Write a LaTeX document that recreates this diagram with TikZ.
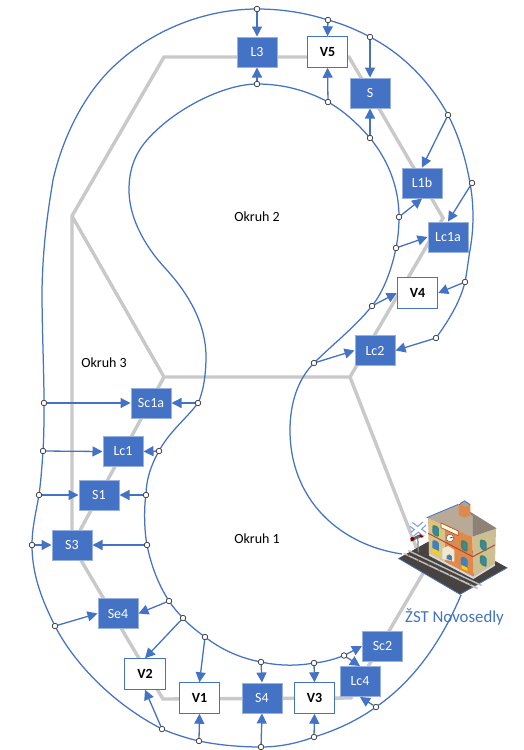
\documentclass[tikz,border=0pt]{standalone}
\usepackage{fontspec}
\setmainfont{Carlito}
\usetikzlibrary{arrows.meta}
\definecolor{bl}{HTML}{4472C4}
\definecolor{trk}{HTML}{C9C9C9}
\definecolor{wallO}{HTML}{DF8A4C}
\definecolor{wallY}{HTML}{D8C488}
\definecolor{wallR}{HTML}{CDBF94}
\definecolor{roofL}{HTML}{B8AA97}
\definecolor{roofR}{HTML}{8E8277}
\definecolor{plat}{HTML}{474341}
\definecolor{winG}{HTML}{3B8C58}
\definecolor{winB}{HTML}{3F80BE}
\definecolor{belt}{HTML}{B9472F}
\tikzset{
  x=1pt,y=-1pt,
  full/.style={draw=bl!55!white,line width=1pt,fill=bl,text=white,minimum width=40pt,minimum height=30pt,inner sep=0pt,font=\fontsize{14}{14}\selectfont},
  hollow/.style={draw=bl,line width=1pt,fill=white,text=black,minimum width=40.5pt,minimum height=30.5pt,inner sep=0pt,font=\fontsize{14}{14}\selectfont\bfseries},
  mk/.style={circle,draw=black!80,fill=white,line width=.6pt,minimum size=5.4pt,inner sep=0pt},
  track/.style={draw=trk,line width=3.4pt,line join=miter},
  loopline/.style={draw=bl,line width=1.25pt},
  feed/.style={draw=bl,line width=1.3pt,-{Triangle[length=10pt,width=10pt]}},
  lab/.style={font=\fontsize{14}{14}\selectfont,text=black,inner sep=0pt}
}
\begin{document}
\begin{tikzpicture}
\useasboundingbox (0,0) rectangle (524,750);
\fill[white] (0,0) rectangle (524,750);
% junctions
\coordinate (j1) at (164,57);
\coordinate (j2) at (72,216);
\coordinate (j3) at (164,377);
\coordinate (j4) at (350,377);
\coordinate (j5) at (443,218);
\coordinate (j6) at (349,57);
\coordinate (j7) at (163,699);
\coordinate (j8) at (351,698);
\coordinate (j9) at (425,570);
\coordinate (j10) at (369,665);
\coordinate (j0) at (257,57);
% gray tracks
\draw[track] (j0) -- (j1) -- (j2) -- (72,545);
\draw[track] (j2) -- (j3) -- (j4) -- (j5) -- (j6) -- (j0);
\draw[track] (j4) -- (j9) -- (j10);
\draw[track] (j3) -- (72,545) -- (j7) -- (j8) -- (j10);
% boxes
\node[full] (L3) at (257,52) {L3};
\node[hollow] (V5) at (327.5,52) {V5};
\node[full] (S) at (370,93) {S};
\node[full] (L1b) at (422,183) {L1b};
\node[full] (Lc1a) at (448,237) {Lc1a};
\node[hollow] (V4) at (417.5,293) {V4};
\node[full] (Lc2) at (375,350.5) {Lc2};
\node[full] (Sc1a) at (151,403) {Sc1a};
\node[full] (Lc1) at (123,451.5) {Lc1};
\node[full] (S1) at (99,495) {S1};
\node[full] (S3) at (72,545) {S3};
\node[full] (Se4) at (118,613.5) {Se4};
\node[hollow] (V2) at (145,674) {V2};
\node[hollow] (V1) at (199.5,698) {V1};
\node[full] (S4) at (262,698) {S4};
\node[hollow] (V3) at (314.5,698) {V3};
\node[full] (Lc4) at (360,681.5) {Lc4};
\node[full] (Sc2) at (382.5,646) {Sc2};
% markers: inner
\node[mk] (a1) at (257,84) {};
\node[mk] (a2) at (328,102) {};
\node[mk] (a3) at (370,138) {};
\node[mk] (a4) at (399,217) {};
\node[mk] (a5) at (396,248) {};
\node[mk] (a6) at (372,306) {};
\node[mk] (a7) at (314,363) {};
\node[mk] (a8) at (198,403) {};
\node[mk] (a9) at (159,451) {};
\node[mk] (a10) at (146,495) {};
\node[mk] (a11) at (147,545) {};
\node[mk] (a12) at (169,601) {};
\node[mk] (a13) at (183,618) {};
\node[mk] (a14) at (205,637) {};
\node[mk] (a15) at (261,662) {};
\node[mk] (a16) at (314,663) {};
\node[mk] (a17) at (344,655.5) {};
% markers: outer
\node[mk] (b1) at (257,9) {};
\node[mk] (b2) at (328,20) {};
\node[mk] (b3) at (370,37) {};
\node[mk] (b4) at (448,115) {};
\node[mk] (b5) at (472,183) {};
\node[mk] (b6) at (465,282) {};
\node[mk] (b7) at (436,338) {};
\node[mk] (b8) at (44,403) {};
\node[mk] (b9) at (43,451) {};
\node[mk] (b10) at (39,495) {};
\node[mk] (b11) at (32,545) {};
\node[mk] (b12) at (55,626) {};
\node[mk] (b13) at (162,729) {};
\node[mk] (b14) at (199,741) {};
\node[mk] (b15) at (261,747) {};
\node[mk] (b16) at (314,737) {};
\node[mk] (b17) at (376,707) {};
\coordinate (st1) at (402,554);
\coordinate (st2) at (461,595);
% inner loop
\draw[loopline] (st1) .. controls (340,545) and (290,500) .. (290,430)
  .. controls (290,403) and (298,379) .. (314,363)
  .. controls (332,345) and (354,328) .. (372,306)
  .. controls (384,291) and (392,268) .. (396,248)
  .. controls (398,238) and (399,228) .. (399,217)
  .. controls (399,187) and (388,160) .. (370,138)
  .. controls (358,124) and (344,111) .. (328,102)
  .. controls (306,90) and (282,84) .. (257,84)
  .. controls (225,84) and (175,108) .. (147,140)
  .. controls (133,156) and (129,173) .. (129,190)
  .. controls (129,215) and (142,243) .. (165,268)
  .. controls (190,295) and (206,325) .. (206,357)
  .. controls (206,375) and (203,393) .. (198,403)
  .. controls (187,418) and (169,432) .. (159,451)
  .. controls (151,465) and (146,480) .. (146,495)
  .. controls (144,505) and (144,530) .. (147,545)
  .. controls (151,565) and (158,584) .. (169,601)
  .. controls (173,607) and (178,613) .. (183,618)
  .. controls (189,625) and (197,631) .. (205,637)
  .. controls (222,650) and (240,658) .. (261,662)
  .. controls (280,666) and (297,666) .. (314,663)
  .. controls (325,662) and (335,659) .. (344,655.5);
% outer loop
\draw[loopline] (436,338)
  .. controls (449,320) and (460,302) .. (465,282)
  .. controls (467,272) and (468,262) .. (470,250)
  .. controls (474,228) and (474,205) .. (470,183)
  .. controls (466,160) and (459,136) .. (448,115)
  .. controls (432,85) and (405,55) .. (370,37)
  .. controls (357,30) and (343,24) .. (328,20)
  .. controls (306,13) and (283,9) .. (257,9)
  .. controls (205,9) and (150,30) .. (110,70)
  .. controls (82,98) and (62,140) .. (53,180)
  .. controls (49,205) and (43,240) .. (42,290)
  .. controls (42,330) and (44,370) .. (44,403)
  .. controls (44,420) and (44,435) .. (43,451)
  .. controls (42,466) and (41,480) .. (39,495)
  .. controls (36,512) and (32,528) .. (32,545)
  .. controls (32,575) and (42,600) .. (55,626)
  .. controls (75,665) and (115,705) .. (162,729)
  .. controls (174,734) and (186,738) .. (199,741)
  .. controls (218,745) and (240,747) .. (261,747)
  .. controls (280,747) and (298,743) .. (314,737)
  .. controls (337,730) and (358,720) .. (376,707)
  .. controls (415,680) and (442,640) .. (st2);
% feeds
\draw[feed] (b1) -- (L3.north);
\draw[feed] (a1) -- (L3.south);
\draw[feed] (b2) -- (V5.north);
\draw[feed] (a2) -- (V5.south);
\draw[feed] (b3) -- (S.north);
\draw[feed] (a3) -- (S.south);
\draw[feed] (b4) -- (L1b.north);
\draw[feed] (a4) -- (L1b.south);
\draw[feed] (b5) -- (Lc1a.north);
\draw[feed] (a5) -- (Lc1a.west);
\draw[feed] (b6) -- (V4.east);
\draw[feed] (a6) -- (V4.west);
\draw[feed] (b7) -- (Lc2.east);
\draw[feed] (a7) -- (Lc2.west);
\draw[feed] (b8) -- (Sc1a.west);
\draw[feed] (a8) -- (Sc1a.east);
\draw[feed] (b9) -- (Lc1.west);
\draw[feed] (a9) -- (Lc1.east);
\draw[feed] (b10) -- (S1.west);
\draw[feed] (a10) -- (S1.east);
\draw[feed] (b11) -- (S3.west);
\draw[feed] (a11) -- (S3.east);
\draw[feed] (b12) -- (Se4.west);
\draw[feed] (a12) -- (Se4.east);
\draw[feed] (a13) -- (V2.north);
\draw[feed] (b13) -- (V2.south);
\draw[feed] (a14) -- (V1.north);
\draw[feed] (b14) -- (V1.south);
\draw[feed] (a15) -- (S4.north);
\draw[feed] (b15) -- (S4.south);
\draw[feed] (a16) -- (V3.north);
\draw[feed] (b16) -- (V3.south);
\draw[feed] (a17) -- (Sc2.west);
\draw[feed] (a17) -- (Lc4.north);
\draw[feed] (b17) -- (Lc4.south);
% markers on top of the lines
\foreach \n in {a1,a2,a3,a4,a5,a6,a7,a8,a9,a10,a11,a12,a13,a14,a15,a16,a17,b1,b2,b3,b4,b5,b6,b7,b8,b9,b10,b11,b12,b13,b14,b15,b16,b17}{
  \fill[white] (\n) circle (2.7pt);
  \draw[black!80,line width=.6pt] (\n) circle (2.7pt);
}
% labels
\node[lab] (ok2) at (257,217) {Okruh 2};
\node[lab] (ok3) at (104,363) {Okruh 3};
\node[lab] (ok1) at (257,539) {Okruh 1};
\node[text=bl,font=\fontsize{16.8}{17}\selectfont,inner sep=0pt] (zst) at (454.5,617) {ŽST Novosedly};
% station picture
\begin{scope}[shift={(395,495)},x=.3333pt,y=-.3333pt,line join=round]
  % platform
  \fill[plat] (10,190) -- (100,140) -- (250,170) -- (337,218) -- (195,298) -- cycle;
  \draw[bl,line width=.8pt] (10,190) -- (195,298) -- (337,218);
  \fill[white!75!black] (25,177) -- (28,174) -- (250,278) -- (246,282) -- cycle;
  \fill[white!75!black] (38,168) -- (41,165) -- (262,270) -- (258,273) -- cycle;
  \foreach \i in {0,1,2,3,4,5,6}{
    \fill[brown!70!black] ({40+\i*31},{180+\i*14.5}) circle (3.2);
  }
  % right wall
  \fill[wallR] (232,125) -- (303,100) -- (300,205) -- (235,245) -- cycle;
  % front wall
  \fill[wallO] (100,68) -- (232,125) -- (235,245) -- (102,175) -- cycle;
  \fill[wallY] (100,68) -- (150,90) -- (150,200) -- (102,175) -- cycle;
  % belt
  \draw[belt,line width=1pt] (100,115) -- (233,185) -- (300,150);
  % ground line
  \fill[white!70!gray] (102,175) -- (235,245) -- (300,205) -- (300,212) -- (235,252) -- (102,182) -- cycle;
  % roof
  \fill[roofL] (95,68) -- (190,28) -- (232,62) -- (232,125) -- cycle;
  \fill[roofR] (190,28) -- (305,100) -- (232,125) -- (232,62) -- cycle;
  \draw[bl,line width=.8pt] (95,68) -- (190,28);
  % chimney
  \fill[wallO] (192,30) -- (198,22) -- (226,30) -- (226,62) -- (208,68) -- (192,60) -- cycle;
  \fill[black!35!white] (197,22) -- (210,17) -- (226,27) -- (210,36) -- cycle;
  \draw[bl,line width=.6pt] (192,30) -- (208,17) -- (226,30);
  % sign and clock
  \fill[white!85!yellow] (138,84) -- (190,108) -- (190,122) -- (138,98) -- cycle;
  \draw[belt,line width=.7pt] (138,84) -- (190,108) -- (190,122) -- (138,98) -- cycle;
  \fill[white] (165,129) circle (11);
  \draw[black!60,line width=.5pt] (165,129) circle (11);
  \draw[black,line width=.6pt] (165,129) -- (173,127);
  % windows
  \foreach \x/\y/\c in {122/105/winG,208/150/winG,122/150/winB,208/200/winB,265/148/winG,265/195/winG}{
    \fill[\c,rounded corners=2pt] ({\x-10},{\y-16}) -- ({\x+10},{\y-10}) -- ({\x+10},{\y+22}) -- ({\x-10},{\y+13}) -- cycle;
    \fill[winB,rounded corners=1pt] ({\x-5},{\y-9}) -- ({\x+5},{\y-6}) -- ({\x+5},{\y+14}) -- ({\x-5},{\y+9}) -- cycle;
  }
  \fill[yellow!70!orange] (113,160) -- (131,168) -- (131,180) -- (113,172) -- cycle;
  \fill[yellow!70!orange] (200,210) -- (217,218) -- (217,228) -- (200,220) -- cycle;
  % porch
  \fill[white!60!wallY] (142,160) -- (160,153) -- (178,165) -- (178,200) -- (142,192) -- cycle;
  \fill[winB] (155,183) -- (163,178) -- (171,184) -- (171,197) -- (155,192) -- cycle;
  % crossing sign
  \draw[black!50,line width=1.2pt] (68,120) -- (70,172);
  \fill[black!60] (47,130) -- (88,112) -- (88,122) -- (47,140) -- cycle;
  \fill[red!50!black] (52,132) circle (6);
  \fill[red!50!black] (80,122) circle (6);
  \draw[bl!70!white,line width=5.5pt] (48,88) -- (90,118);
  \draw[bl!70!white,line width=5.5pt] (52,118) -- (88,86);
  \draw[white,line width=3.2pt] (48,88) -- (90,118);
  \draw[white,line width=3.2pt] (52,118) -- (88,86);
\end{scope}
\end{tikzpicture}
\end{document}
